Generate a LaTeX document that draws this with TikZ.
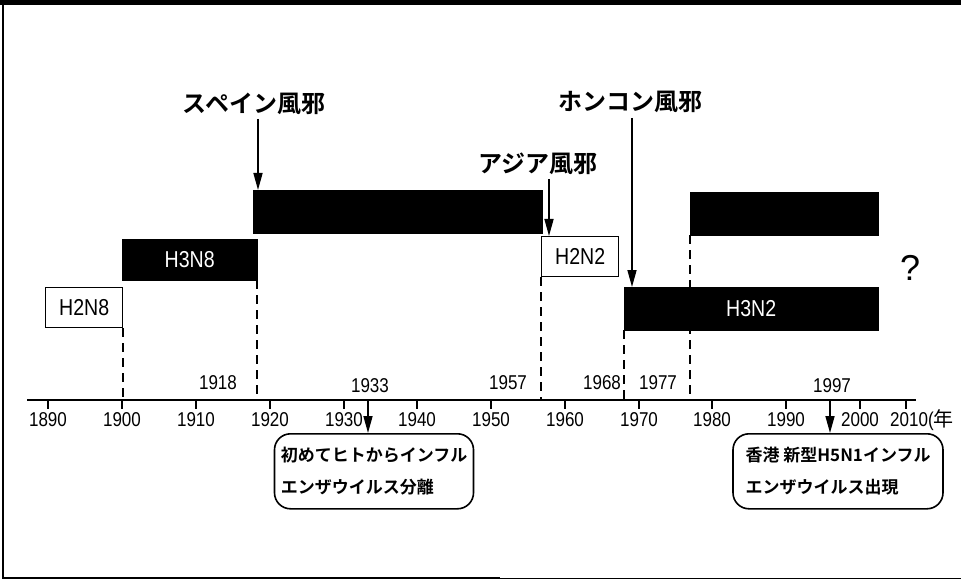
\documentclass[tikz,border=0pt]{standalone}
\usepackage{fontspec}
\setmainfont{Liberation Sans}
\newfontfamily\jpf{Noto Sans CJK JP}[BoldFont={* Bold}]
\usetikzlibrary{arrows.meta}
\begin{document}
\begin{tikzpicture}[x=1pt,y=-1pt,
  blk/.style={fill=black,draw=black,anchor=north west,inner sep=0pt,text=white,font=\fontsize{23}{23}\selectfont},
  wbox/.style={fill=white,draw=black,line width=1.4pt,anchor=north west,inner sep=0pt,font=\fontsize{23}{23}\selectfont},
  arr/.style={line width=1.6pt,-{Triangle[length=17pt,width=9pt]}},
  dsh/.style={line width=2pt,dash pattern=on 9pt off 6pt},
  lbl/.style={font=\jpf\bfseries\fontsize{24}{24}\selectfont,inner sep=0pt},
  yr/.style={font=\fontsize{20}{20}\selectfont,inner sep=0pt},
  tk/.style={font=\fontsize{20}{20}\selectfont,inner sep=0pt},
  note/.style={draw=black,line width=1.6pt,rounded corners=16pt,align=left,inner sep=0pt,
    minimum width=199pt,minimum height=75pt,anchor=north,font=\jpf\bfseries\fontsize{17}{32}\selectfont}]
\useasboundingbox (0,0) rectangle (961,580);
% frame
\fill[black] (0,0) rectangle (961,5);
\draw[line width=1.8pt] (3,0) -- (3,578) -- (500,578);
\draw[line width=1pt] (500,578) -- (961,578);
% axis
\coordinate (aL) at (27,400);
\coordinate (aR) at (916,400);
\draw[line width=1.6pt] (aL) -- (aR);
\foreach \x/\t in {48/1890,122/1900,196/1910,270/1920,344/1930,417/1940,491/1950,565/1960,639/1970,712/1980,786/1990,860/2000}{
  \draw[line width=1.2pt] (\x,400) -- (\x,409);
  \node[tk] at (\x,420) {\scalebox{0.85}[1]{\t}};
}
\draw[line width=1.2pt] (906,400) -- (906,409);
\node[tk,anchor=west] at (890,420) {\scalebox{0.85}[1]{2010(}{\jpf 年}};
% boxes
\node[wbox,minimum width=77pt,minimum height=40pt] (h2n8) at (45,287) {\scalebox{0.85}[1]{H2N8}};
\node[blk,minimum width=135pt,minimum height=41pt] (h3n8) at (122,239) {\scalebox{0.85}[1]{H3N8}};
\node[blk,minimum width=289pt,minimum height=43pt] (h1n1) at (253,190) {};
\node[wbox,minimum width=77pt,minimum height=40pt] (h2n2) at (541,236) {\scalebox{0.85}[1]{H2N2}};
\node[blk,minimum width=254pt,minimum height=43pt] (h3n2) at (624,287) {\scalebox{0.85}[1]{H3N2}};
\node[blk,minimum width=188pt,minimum height=43pt] (h1n1b) at (690,192) {};
\node[font=\fontsize{36}{36}\selectfont,inner sep=0pt] (q) at (910,268) {?};
% dashed lines
\draw[dsh] (h2n8.south east) -- (h2n8.south east |- aL);
\draw[dsh] (h3n8.south east) -- (h3n8.south east |- aL);
\draw[dsh] (h2n2.south west) -- (h2n2.south west |- aL);
\draw[dsh] (h3n2.south west) -- (h3n2.south west |- aL);
\draw[dsh] (h1n1b.south west) -- (h1n1b.south west |- aL);
% year labels
\node[yr] (y1918) at (218,383) {\scalebox{0.85}[1]{1918}};
\node[yr] (y1933) at (370,386) {\scalebox{0.85}[1]{1933}};
\node[yr] (y1957) at (508,383) {\scalebox{0.85}[1]{1957}};
\node[yr] (y1968) at (602,383) {\scalebox{0.85}[1]{1968}};
\node[yr] (y1977) at (658,383) {\scalebox{0.85}[1]{1977}};
\node[yr] (y1997) at (832,386) {\scalebox{0.85}[1]{1997}};
% top labels
\node[lbl] (spain) at (254,104) {スペイン風邪};
\node[lbl] (asia) at (538,164) {アジア風邪};
\node[lbl] (hk) at (630,102) {ホンコン風邪};
\coordinate (sp0) at (258,119);
\draw[arr] (sp0) -- (sp0 |- h1n1.north);
\coordinate (as0) at (549,179);
\draw[arr] (as0) -- (as0 |- h2n2.north);
\coordinate (hk0) at (632,118);
\draw[arr] (hk0) -- (hk0 |- h3n2.north);
% notes
\node[note] (n1) at (374,433) {初めてヒトからインフル\\エンザウイルス分離};
\node[note,minimum width=210pt] (n2) at (838,433) {香港 新型H5N1インフル\\エンザウイルス出現};
\coordinate (c1933) at (368,400);
\draw[arr] (c1933) -- (c1933 |- n1.north);
\coordinate (c1997) at (830,400);
\draw[arr] (c1997) -- (c1997 |- n2.north);
\end{tikzpicture}
\end{document}
